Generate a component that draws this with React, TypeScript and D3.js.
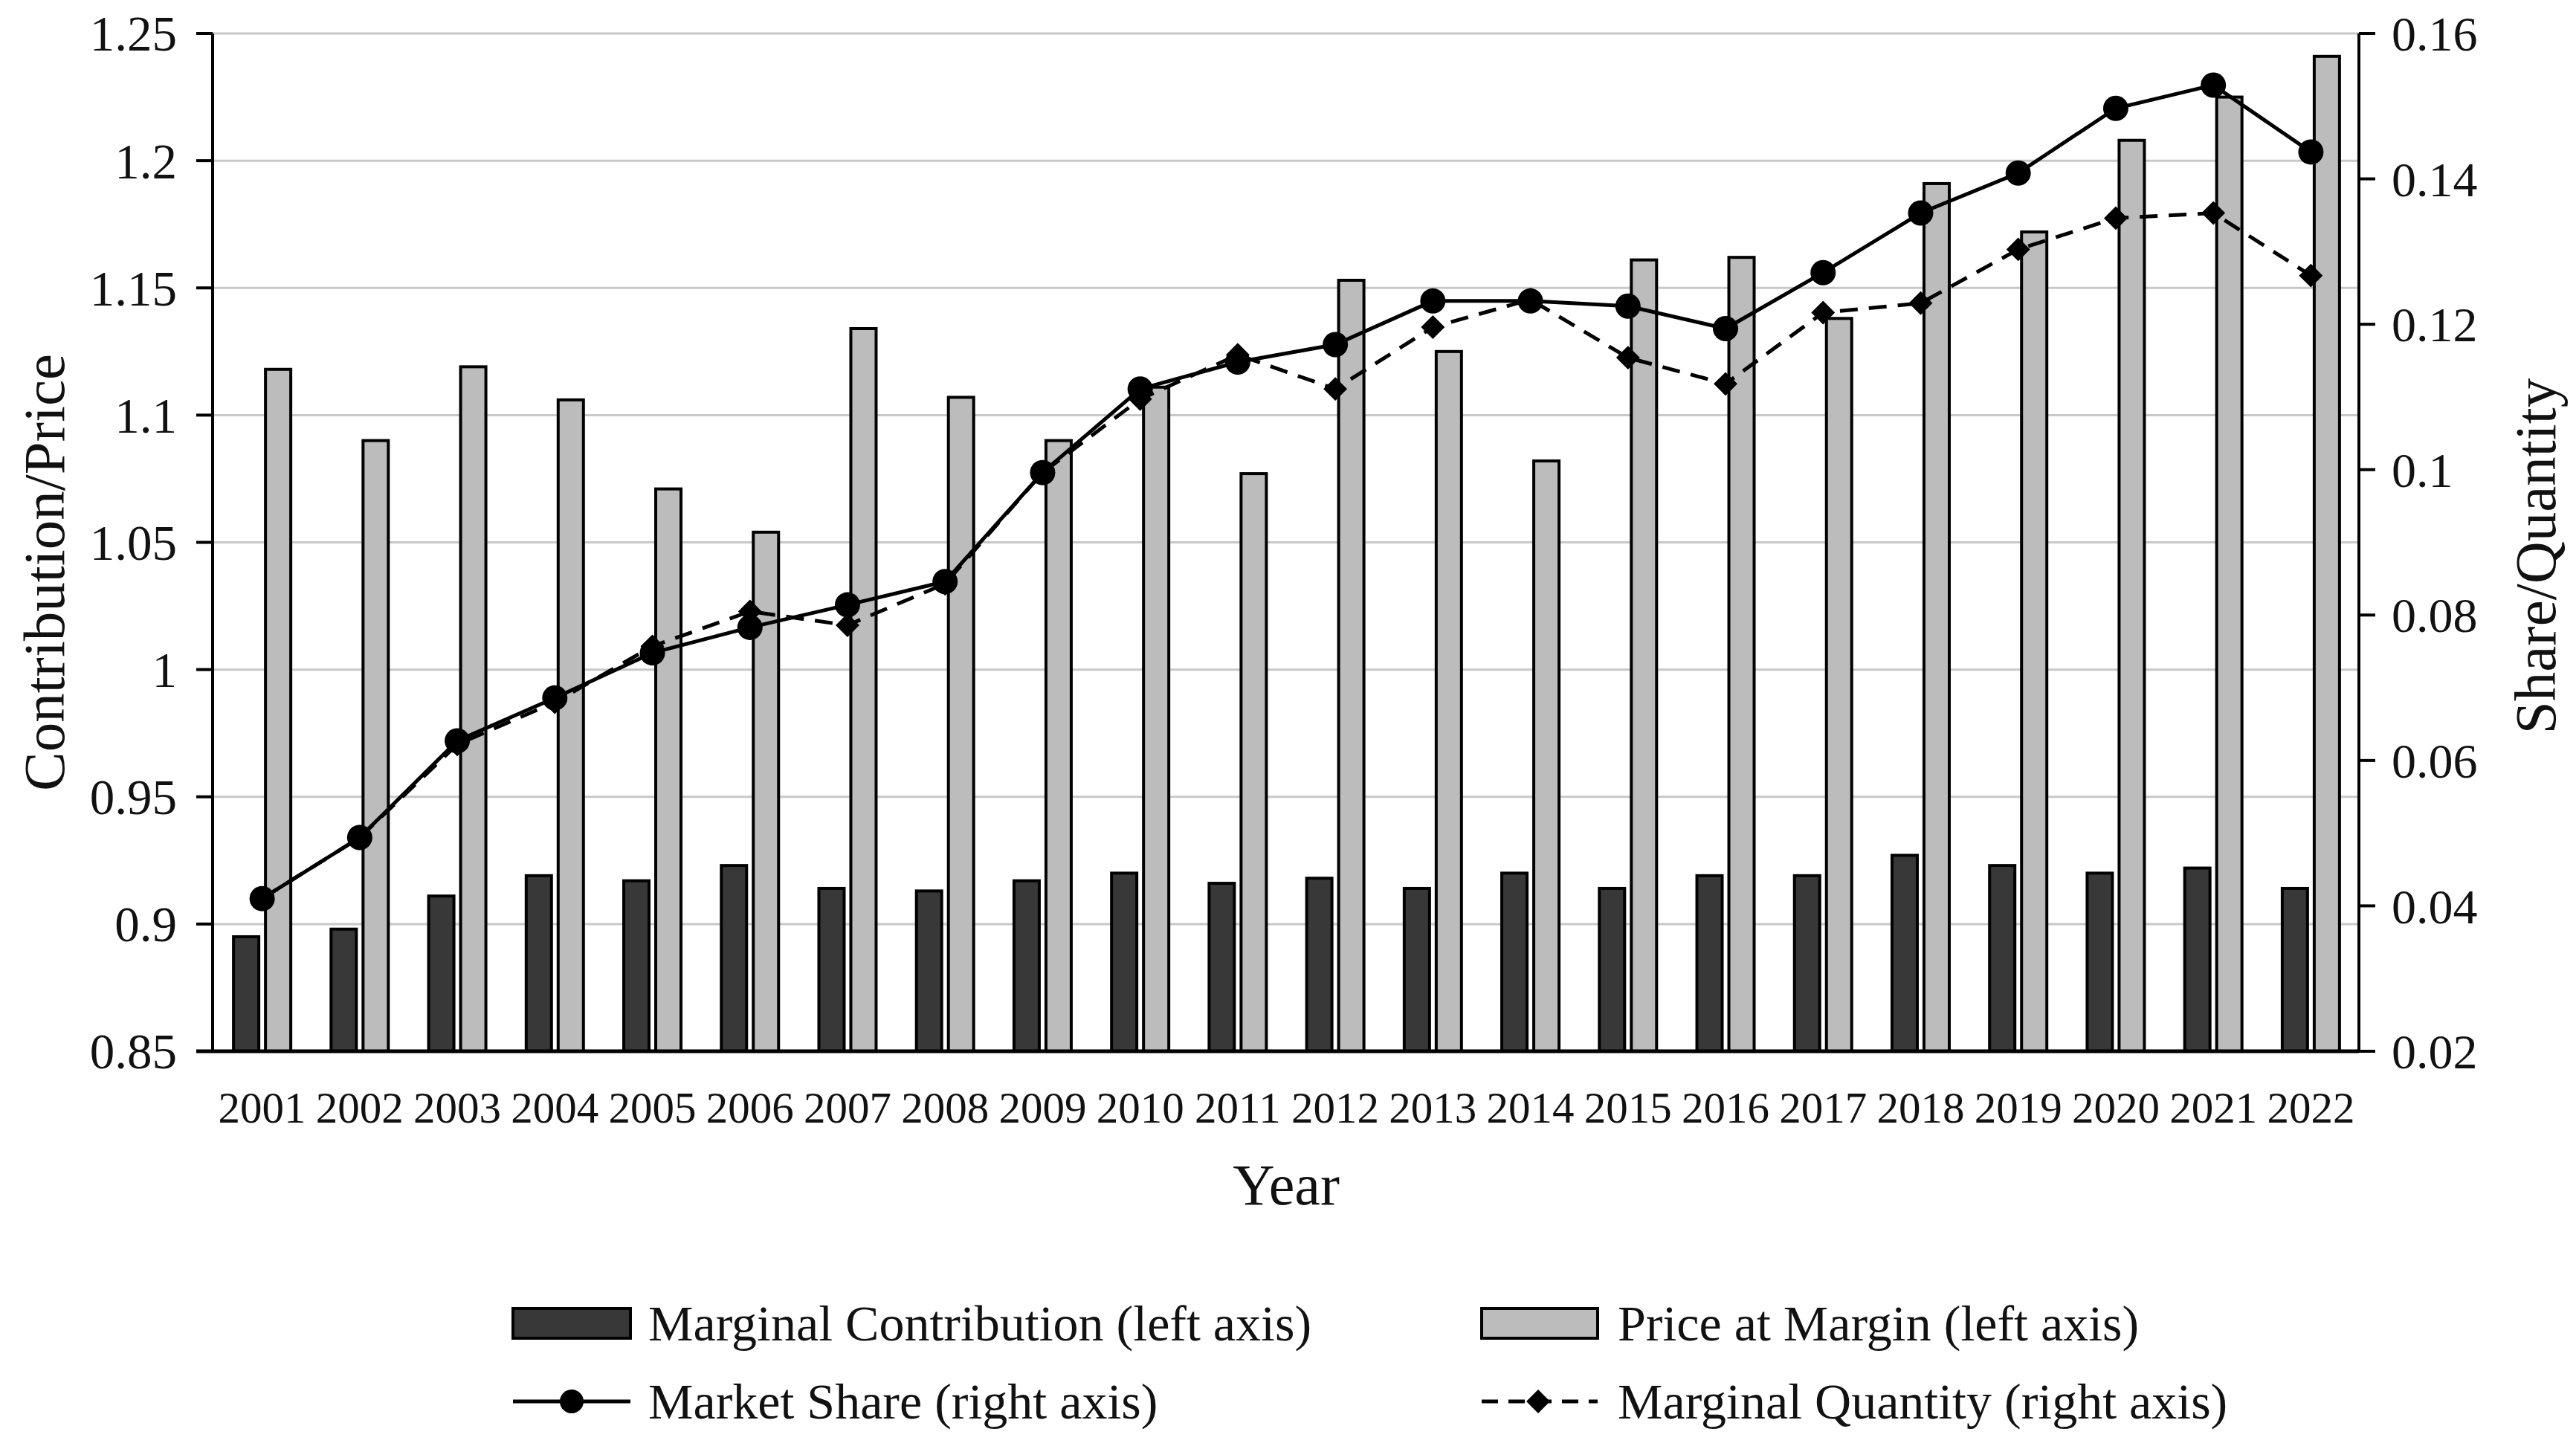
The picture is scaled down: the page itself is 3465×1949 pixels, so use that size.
import React from "react";
import * as d3 from "d3";

const years = ["2001","2002","2003","2004","2005","2006","2007","2008","2009","2010","2011","2012","2013","2014","2015","2016","2017","2018","2019","2020","2021","2022"];
const contribution = [0.895,0.898,0.911,0.919,0.917,0.923,0.914,0.913,0.917,0.920,0.916,0.918,0.914,0.920,0.914,0.919,0.919,0.927,0.923,0.920,0.922,0.914];
const price = [1.118,1.090,1.119,1.106,1.071,1.054,1.134,1.107,1.090,1.111,1.077,1.153,1.125,1.082,1.161,1.162,1.138,1.191,1.172,1.208,1.225,1.241];
const share = [0.0410,0.0494,0.0627,0.0686,0.0748,0.0783,0.0814,0.0846,0.0996,0.1111,0.1148,0.1172,0.1232,0.1232,0.1225,0.1194,0.1271,0.1353,0.1408,0.1497,0.1529,0.1437];
const quantity = [0.0410,0.0494,0.0622,0.0680,0.0757,0.0805,0.0786,0.0843,0.0996,0.1097,0.1158,0.1111,0.1196,0.1234,0.1154,0.1118,0.1216,0.1229,0.1303,0.1346,0.1353,0.1267];
const leftTicks = [0.85,0.9,0.95,1,1.05,1.1,1.15,1.2,1.25];
const rightTicks = [0.02,0.04,0.06,0.08,0.1,0.12,0.14,0.16];
const legendLabels = ["Marginal Contribution (left axis)","Price at Margin (left axis)","Market Share (right axis)","Marginal Quantity (right axis)"];

const W = 3465, H = 1949;
const M = { left: 286, right: 3173, top: 45, bottom: 1414 };
const FONT = "'Liberation Serif', 'Times New Roman', serif";
const DARK = "#383838", LIGHT = "#bcbcbc";

export default function App() {
  const x = d3.scaleBand().domain(years).range([M.left, M.right]).padding(0);
  const yL = d3.scaleLinear().domain([0.85, 1.25]).range([M.bottom, M.top]);
  const yR = d3.scaleLinear().domain([0.02, 0.16]).range([M.bottom, M.top]);
  const bw = 34, gap = 9;
  const cx = (i: number) => (x(years[i]) as number) + x.bandwidth() / 2 + 1;

  const lineShare = d3.line<number>().x((_, i) => cx(i)).y((d) => yR(d))(share) as string;
  const lineQty = d3.line<number>().x((_, i) => cx(i)).y((d) => yR(d))(quantity) as string;
  const diamond = d3.symbol().type(d3.symbolDiamond2).size(2 * 18 * 18)() as string;

  const fmt = (v: number) => String(+v.toFixed(2));

  return (
    <svg width={W} height={H} style={{ position: "absolute", left: 0, top: 0, background: "#ffffff" }} fontFamily={FONT}>
      <rect x={0} y={0} width={W} height={H} fill="#ffffff" />
      {leftTicks.slice(1).map((t) => (
        <line key={"g" + t} x1={M.left} x2={M.right} y1={yL(t)} y2={yL(t)} stroke="#c8c8c8" strokeWidth={3} />
      ))}
      {years.map((yr, i) => (
        <g key={"b" + yr}>
          <rect x={cx(i) - gap / 2 - bw} y={yL(contribution[i])} width={bw} height={M.bottom - yL(contribution[i])} fill={DARK} stroke="#000" strokeWidth={4} />
          <rect x={cx(i) + gap / 2} y={yL(price[i])} width={bw} height={M.bottom - yL(price[i])} fill={LIGHT} stroke="#000" strokeWidth={4} />
        </g>
      ))}
      <path d={lineQty} fill="none" stroke="#000" strokeWidth={5} strokeDasharray="24 15" />
      <path d={lineShare} fill="none" stroke="#000" strokeWidth={5} />
      {quantity.map((v, i) => (
        <path key={"d" + i} d={diamond} transform={`translate(${cx(i)},${yR(v)})`} fill="#000" />
      ))}
      {share.map((v, i) => (
        <circle key={"c" + i} cx={cx(i)} cy={yR(v)} r={17} fill="#000" />
      ))}
      <line x1={M.left} x2={M.left} y1={M.top} y2={M.bottom} stroke="#000" strokeWidth={4} />
      <line x1={M.right} x2={M.right} y1={M.top} y2={M.bottom} stroke="#000" strokeWidth={4} />
      <line x1={M.left - 22} x2={M.right} y1={M.bottom} y2={M.bottom} stroke="#000" strokeWidth={5} />
      {leftTicks.map((t) => (
        <g key={"l" + t}>
          <line x1={M.left - 22} x2={M.left} y1={yL(t)} y2={yL(t)} stroke="#000" strokeWidth={4} />
          <text x={M.left - 48} y={yL(t)} dy="0.35em" textAnchor="end" fontSize={67} fill="#111">{fmt(t)}</text>
        </g>
      ))}
      {rightTicks.map((t) => (
        <g key={"r" + t}>
          <line x1={M.right} x2={M.right + 22} y1={yR(t)} y2={yR(t)} stroke="#000" strokeWidth={4} />
          <text x={M.right + 44} y={yR(t)} dy="0.35em" textAnchor="start" fontSize={66} fill="#111">{fmt(t)}</text>
        </g>
      ))}
      {years.map((yr, i) => (
        <text key={"y" + yr} x={cx(i)} y={1510} textAnchor="middle" fontSize={59} fill="#111">{yr}</text>
      ))}
      <text x={1730} y={1620} textAnchor="middle" fontSize={78} fill="#111">Year</text>
      <text transform={`translate(86,770) rotate(-90)`} textAnchor="middle" fontSize={79} fill="#111">Contribution/Price</text>
      <text transform={`translate(3437,748) rotate(-90)`} textAnchor="middle" fontSize={79} fill="#111">Share/Quantity</text>
      <rect x={690} y={1760} width={158} height={40} fill={DARK} stroke="#000" strokeWidth={4} />
      <text x={872} y={1803} fontSize={68} fill="#111">{legendLabels[0]}</text>
      <rect x={1993} y={1760} width={156} height={40} fill={LIGHT} stroke="#000" strokeWidth={4} />
      <text x={2176} y={1803} fontSize={68} fill="#111">{legendLabels[1]}</text>
      <line x1={690} x2={848} y1={1885} y2={1885} stroke="#000" strokeWidth={5} />
      <circle cx={769} cy={1885} r={16} fill="#000" />
      <text x={872} y={1908} fontSize={68} fill="#111">{legendLabels[2]}</text>
      <line x1={1993} x2={2149} y1={1885} y2={1885} stroke="#000" strokeWidth={5} strokeDasharray="22 14" />
      <path d={diamond} transform="translate(2069,1885)" fill="#000" />
      <text x={2176} y={1908} fontSize={68} fill="#111">{legendLabels[3]}</text>
    </svg>
  );
}
